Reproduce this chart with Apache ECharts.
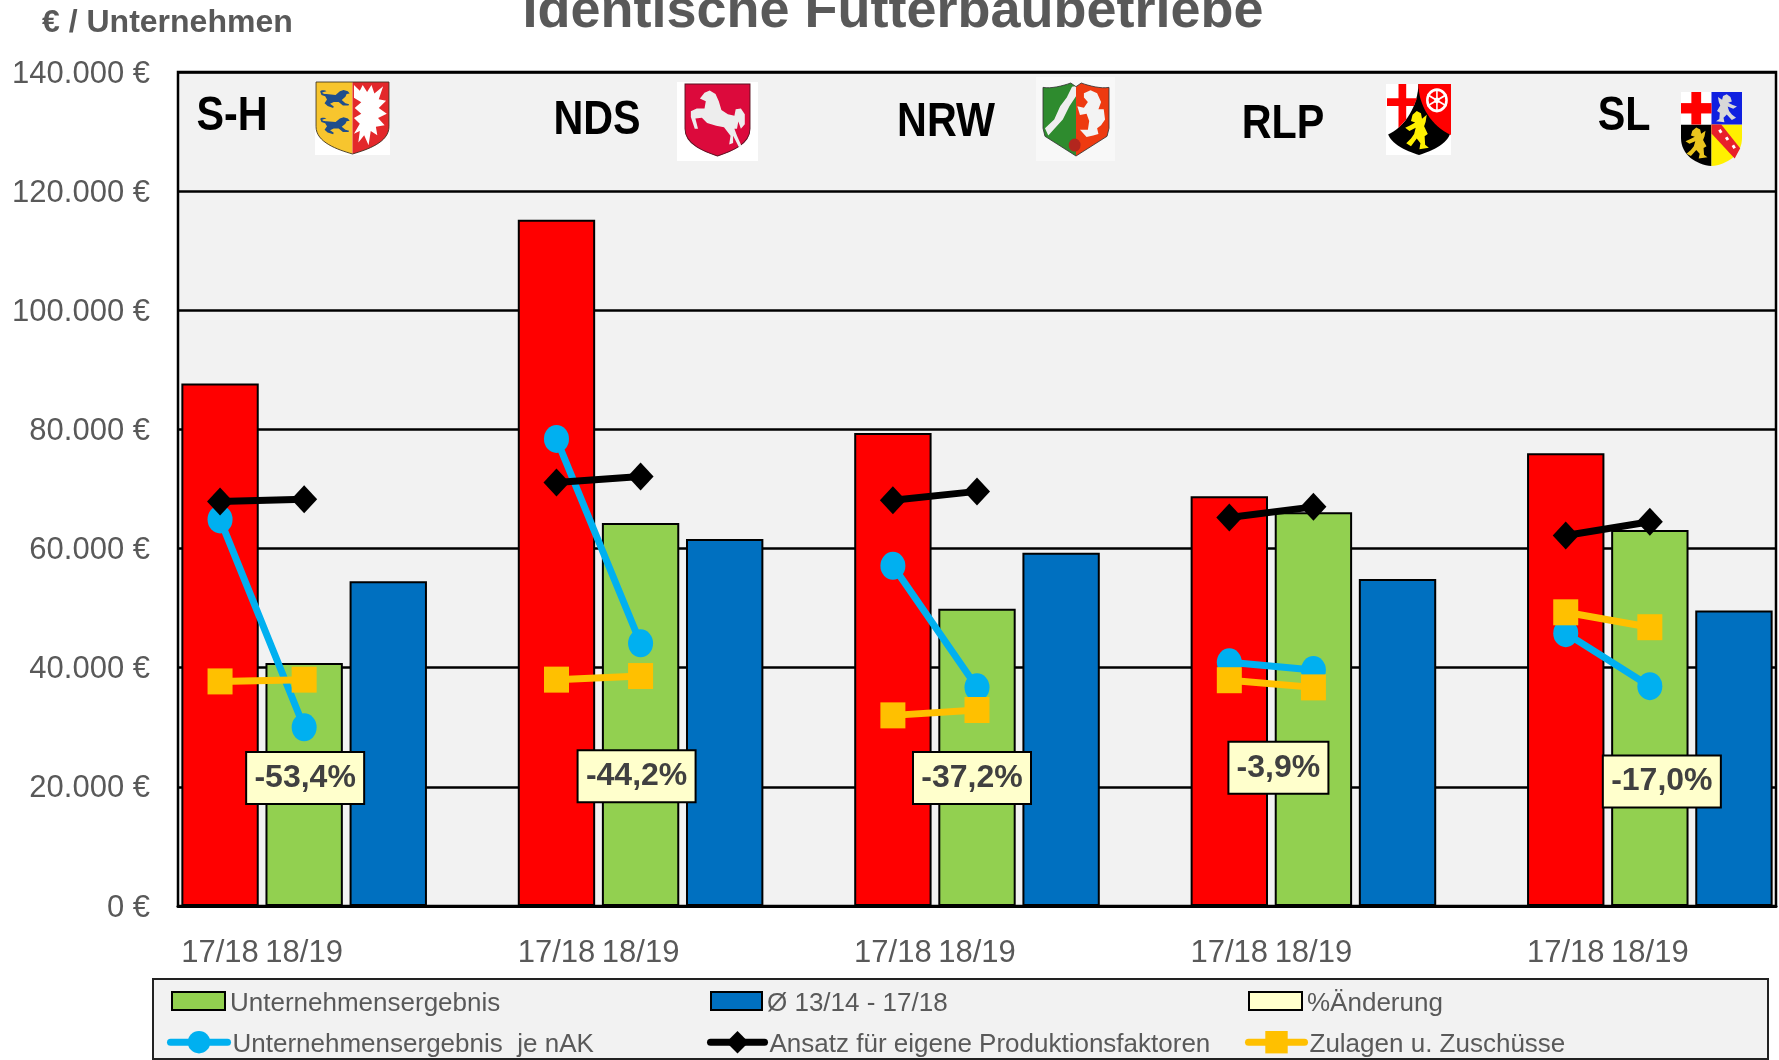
<!DOCTYPE html>
<html><head><meta charset="utf-8">
<style>html,body{margin:0;padding:0;background:#fff;overflow:hidden}#c{width:1779px;height:1060px}</style>
<script src="https://cdn.jsdelivr.net/npm/echarts@6/dist/echarts.min.js"></script></head>
<body><div id="c"></div>
<script>
const categories = ['17/18','18/19','','', '17/18','18/19','','', '17/18','18/19','','', '17/18','18/19','','', '17/18','18/19',''];
const ergebnis = [87700,40800,null,null, 115200,64300,null,null, 79400,49900,null,null, 68800,66100,null,null, 76000,63100,null];
const durchschnitt = [null,null,54500,null, null,null,61600,null, null,null,59300,null, null,null,54900,null, null,null,49600];
const jeNak = [64900,30000,null,null, 78400,44100,null,null, 57100,36700,null,null, 40900,39600,null,null, 45800,36900,null];
const ansatz = [67900,68300,null,null, 71100,72100,null,null, 68100,69600,null,null, 65200,67000,null,null, 62200,64500,null];
const zulagen = [37700,38000,null,null, 38000,38600,null,null, 32000,32900,null,null, 37900,36700,null,null, 49300,46800,null];
const aenderung = ['-53,4%','-44,2%','-37,2%','-3,9%','-17,0%'];
const aenderungY = [21500,21800,21500,23200,20900];
const aenderungDx = [1,-4,-5,-35,12];
const aenderungW = [110,110,110,92,110];
const stateNames = ['S-H','NDS','NRW','RLP','SL'];
const stateX = [232,597,946,1283,1624];
const stateY = [117,121,123,125,117];

const FONT = '"Liberation Sans",sans-serif';
const GREY = '#595959';
const shield = 'M0 0H100V62C100 84 70 94 50 100C30 94 0 84 0 62Z';
const leftHalf = 'M0 0H50V100C30 94 0 84 0 62Z';
const rightHalf = 'M50 0H100V62C100 84 70 94 50 100Z';
const walkingLion = 'M2 8C2 0 18 0 22 6L10 10C6 14 14 18 22 18L52 22L66 6L78 0L92 6L98 16L88 18L84 30L72 44L84 58L96 62L94 68L76 68L62 52L46 52L34 60L46 72L44 78L26 70L16 58L24 42L18 28L6 22Z';
const rampantLion = 'M34 10L50 0L66 6L70 20L88 10L84 28L78 40L92 60L80 66L82 88L96 96L60 100L64 84L50 72L28 92L10 84L28 72L40 60L46 44L22 52L6 44L24 38L44 30L28 26Z';
const nettle = 'M52 4L60 12L64 4L70 14L76 4L80 16L92 6L86 24L96 26L86 36L97 44L85 50L94 60L82 62L84 74L75 68L72 88L66 74L58 84L60 68L52 72L60 58L52 50L62 44L53 36L62 28L52 22Z';
const ndsHorse = 'M23 20L30 12L38 9L47 14L52 24L56 36L66 42L76 44L78 35L86 34L92 42L92 56L86 62L82 52L80 62L76 62L80 72L87 86L83 88L74 72L74 82L68 84L70 72L60 60L48 58L34 54L26 47L16 48L20 62L15 62L9 46L9 38L18 34L30 34L32 24L27 22Z';
const nrwShieldL = 'M0 6C12 8 30 4 42 0L50 5V100L3 73L0 62Z';
const nrwShieldR = 'M50 5L58 0C70 4 88 8 100 6V62L97 73L50 100Z';
const nrwOutline = 'M0 6C12 8 30 4 42 0L50 5L58 0C70 4 88 8 100 6V62L97 73L50 100L3 73L0 62Z';
const nrwWave = 'M44 5L50 4L50 18L40 32L30 50L8 72L3 62L17 50L26 32L36 20Z';
const nrwHorse = 'M62 14L72 10L82 14L88 26L84 36L92 36L94 50L88 58L82 62L84 70L76 72L66 74L56 64L68 64L70 52L66 42L56 44L52 32L62 34L68 26L62 20Z';
const rlpWhite = 'M0 0H49C49 28 30 60 0 72Z';
const rlpRed = 'M49 0H100V72C70 60 49 30 49 0Z';
const rlpCrossV = 'M18 0H30V50L18 62Z';
const rlpCrossH = 'M0 20H47L42 31H0Z';
const rlpSpokes = 'M78 8V38M63 15L93 31M63 31L93 15';
const slBlack = 'M0 44H50V100C25 98 0 85 0 62Z';
const slYellow = 'M50 44H100V62C100 85 75 98 50 100Z';
const slBand = 'M50 44H66L97 76L88 90L50 56Z';
const slMarks = 'M61 52L65 50L68 54L64 56ZM72 62L76 60L79 64L75 66ZM83 73L87 71L90 75L86 77Z';

const shapeNames = new Map();
function shapeFor(d){
  if(!shapeNames.has(d)){
    const n='armPath'+shapeNames.size;
    echarts.graphic.registerShape(n, echarts.graphic.extendPath(d,{}));
    shapeNames.set(d,n);
  }
  return shapeNames.get(d);
}
function p(d,fill,stroke,lw){
  return {type:shapeFor(d),style:stroke?{fill:fill,stroke:stroke,lineWidth:lw||1}:{fill:fill}};
}
function grp(x,y,w,h,children){return {type:'group',x:x,y:y,scaleX:w/100,scaleY:h/100,children:children};}
function rect(x,y,w,h,fill){return {type:'rect',shape:{x,y,width:w,height:h},style:{fill:fill}};}
function figure(d,x,y,w,h,fill,mirror){
  const g=grp(mirror?x+w:x,y,mirror?-w:w,h,[p(d,fill)]);
  return g;
}
const arms = [
 rect(315,82,75,73,'#fff'),
 grp(316,82,73,72,[p(leftHalf,'#F7C52E'),p(rightHalf,'#E3282B'),
   figure(walkingLion,5,11,42,32,'#1F4E8C'),figure(walkingLion,5,49,42,30,'#1F4E8C'),
   p(nettle,'#fff'),p(shield,'none','#3a3020',1.2)]),
 rect(677,82,81,79,'#fff'),
 grp(685,84,65,72,[p(shield,'#DC0A3C','#5a1020',1.4),p(ndsHorse,'#EDEDED')]),
 rect(1036,77,79,84,'#f8f8f8'),
 grp(1043,83,66,73,[p(nrwShieldL,'#2E8B2E'),p(nrwShieldR,'#EE3A10'),
   p(nrwWave,'#eeeeee'),p(nrwHorse,'#f3f3f3'),
   {type:'circle',shape:{cx:48,cy:85,r:9},style:{fill:'#B3261E'}},
   p(nrwOutline,'none','#333',1.2)]),
 rect(1386,84,65,71,'#fff'),
 grp(1387,84,64,71,[p(shield,'#000'),p(rlpWhite,'#fff'),p(rlpRed,'#FF0000'),
   p(rlpCrossV,'#FF0000'),p(rlpCrossH,'#FF0000'),
   {type:'circle',shape:{cx:78,cy:23,r:15},style:{fill:'none',stroke:'#fff',lineWidth:4}},
   p(rlpSpokes,'none','#fff',2.5),
   {type:'circle',shape:{cx:78,cy:23,r:4},style:{fill:'#fff'}},
   figure(rampantLion,26,38,41,54,'#FFF000',false)]),
 grp(1681,92,61,74,[p(slBlack,'#000'),p(slYellow,'#FFF000'),
   rect(0,0,50,44,'#fff'),rect(50,0,50,44,'#1020E0'),
   rect(17,0,16,44,'#FF0000'),rect(0,15,50,14,'#FF0000'),
   figure(rampantLion,56,3,38,38,'#D8D8D8',true),figure(rampantLion,5,48,40,42,'#EBC51E'),
   p(slBand,'#E8202A'),p(slMarks,'#fff')])
];

const labelsGraphic = stateNames.map((t,i)=>({type:'text',x:stateX[i],y:stateY[i],scaleX:0.86,
  style:{text:t,fill:'#000',font:'bold 48px '+FONT,textAlign:'center',textVerticalAlign:'middle'}}));

function line(name,data,color,symbol,size){
  return {name,type:'line',data,connectNulls:false,symbol,symbolSize:size,z:4,
    lineStyle:{color,width:7,cap:'round'},itemStyle:{color}};
}
const aenderungData = categories.map(()=>null);
aenderung.forEach((t,i)=>{
  aenderungData[i*4+1] = {value:aenderungY[i],
    label:{show:true,position:'inside',formatter:t,offset:[aenderungDx[i],0],width:aenderungW[i]}};
});

const legendText = {color:GREY,fontSize:26,fontFamily:FONT,
  rich:{t:{color:GREY,fontSize:26,fontFamily:FONT,padding:[6,0,0,0]}}};
function lg(left,top,itemWidth,itemHeight,item){
  return {left,top,padding:0,itemWidth,itemHeight,textStyle:legendText,data:[item],
    formatter:n=>'{t|'+n+'}',
    itemStyle:{borderWidth:2},lineStyle:{width:7}};
}
const chart = echarts.init(document.getElementById('c'));
chart.setOption({
  animation:false,
  backgroundColor:'#fff',
  title:{text:'Identische Futterbaubetriebe',left:888,textAlign:'center',top:-20,
    textStyle:{color:GREY,fontSize:54,fontWeight:'bold',fontFamily:FONT}},
  grid:{left:178,right:3,top:72,height:834,show:true,backgroundColor:'#F2F2F2',borderColor:'#000',borderWidth:2.5},
  xAxis:{type:'category',data:categories,
    axisTick:{show:false},axisLine:{lineStyle:{color:'#000',width:3}},
    axisLabel:{interval:0,color:GREY,fontSize:31,fontFamily:FONT,margin:32}},
  yAxis:{type:'value',min:0,max:140000,interval:20000,
    name:'€ / Unternehmen',nameLocation:'end',nameGap:33,
    nameTextStyle:{color:GREY,fontSize:32,fontWeight:'bold',fontFamily:FONT,align:'left',padding:[0,0,0,-136]},
    axisLine:{show:false},axisTick:{show:false},
    splitLine:{lineStyle:{color:'#000',width:2.5}},
    axisLabel:{margin:28,color:GREY,fontSize:31,fontFamily:FONT,
      rich:{v:{color:GREY,fontSize:31,fontFamily:FONT,padding:[4,0,0,0]}},
      formatter:v=>'{v|'+String(v).replace(/(\d)(?=(\d{3})+$)/g,'$1.')+' €}'}},
  legend:[
    lg(171,991,53,18,{name:'Unternehmensergebnis',icon:'rect'}),
    lg(167,1031,57,28,'Unternehmensergebnis  je nAK'),
    lg(710,991,51,18,{name:'Ø 13/14 - 17/18',icon:'rect'}),
    lg(707,1031,54,28,'Ansatz für eigene Produktionsfaktoren'),
    lg(1248,991,53,18,{name:'%Änderung',icon:'rect',itemStyle:{color:'#FFFFCC',borderColor:'#000',borderWidth:2}}),
    lg(1245,1031,56,28,'Zulagen u. Zuschüsse')
  ],
  graphic:[
    {type:'rect',z:-1,shape:{x:153,y:979,width:1615,height:80},style:{fill:'#F2F2F2',stroke:'#222',lineWidth:2}},
    ...arms,
    ...labelsGraphic
  ],
  series:[
    {name:'Unternehmensergebnis',type:'bar',barWidth:'92%',barGap:'-100%',
     data:ergebnis.map((v,i)=>v===null?null:{value:v,itemStyle:{color:i%4===0?'#FF0000':'#92D050'}}),
     itemStyle:{color:'#92D050',borderColor:'#000',borderWidth:2}},
    {name:'Ø 13/14 - 17/18',type:'bar',barWidth:'92%',barGap:'-100%',data:durchschnitt,
     itemStyle:{color:'#0070C0',borderColor:'#000',borderWidth:2}},
    line('Unternehmensergebnis  je nAK',jeNak,'#00B0F0','circle',[25,28]),
    line('Ansatz für eigene Produktionsfaktoren',ansatz,'#000','diamond',[26,28]),
    line('Zulagen u. Zuschüsse',zulagen,'#FFC000','rect',[25,26]),
    {name:'%Änderung',type:'scatter',data:aenderungData,symbolSize:1,z:6,
     itemStyle:{color:'#FFFFCC',borderColor:'#000',borderWidth:2,opacity:1},
     label:{show:true,height:46,lineHeight:46,align:'center',verticalAlign:'middle',
       color:'#404040',fontSize:32,fontWeight:'bold',fontFamily:FONT,
       backgroundColor:'#FFFFCC',borderColor:'#000',borderWidth:2,padding:[2,3]}}
  ]
});
</script></body></html>
